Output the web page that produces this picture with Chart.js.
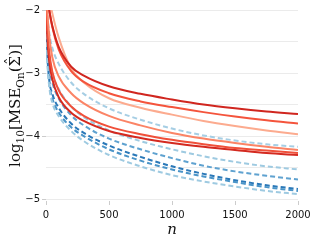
<!DOCTYPE html>
<html>
<head>
<meta charset="utf-8">
<script src="https://cdn.jsdelivr.net/npm/chart.js@4.4.0/dist/chart.umd.min.js"></script>
<style>
  html, body { margin: 0; padding: 0; background: #fff; }
  #wrap { width: 316px; height: 244px; }
</style>
</head>
<body>
<div id="wrap"><canvas id="mseChart" width="316" height="244"></canvas></div>
<script>
// sample sizes n
const nValues = [2, 10, 25, 50, 100, 200, 300, 500, 750, 1000, 1250, 1500, 1750, 2000];

// log10 MSE, solid red curves (upper group)
const redTopDark  = [-1.5, -1.8, -2.0, -2.25, -2.58, -2.9, -3.04, -3.21, -3.33, -3.42, -3.50, -3.56, -3.61, -3.65];
const redTopMid   = [-1.5, -1.75, -1.98, -2.27, -2.62, -2.97, -3.14, -3.32, -3.45, -3.54, -3.62, -3.69, -3.75, -3.80];
const redTopLight = [-1.4, -1.6, -1.8, -2.05, -2.43, -2.93, -3.15, -3.40, -3.55, -3.66, -3.76, -3.84, -3.91, -3.97];
// solid red curves (lower group)
const redLowLight = [-1.6, -2.0, -2.4, -2.75, -3.05, -3.32, -3.48, -3.68, -3.83, -3.95, -4.04, -4.11, -4.17, -4.22];
const redLowMid   = [-1.8, -2.25, -2.65, -2.98, -3.27, -3.53, -3.68, -3.85, -3.97, -4.06, -4.13, -4.19, -4.23, -4.27];
const redLowDark  = [-1.9, -2.4, -2.8, -3.1, -3.38, -3.63, -3.76, -3.92, -4.03, -4.11, -4.17, -4.22, -4.27, -4.30];
// dashed blue curves
const blue1 = [-1.7, -2.05, -2.35, -2.6, -2.85, -3.15, -3.33, -3.56, -3.74, -3.88, -3.99, -4.07, -4.13, -4.17];
const blue2 = [-1.85, -2.35, -2.72, -3.0, -3.25, -3.53, -3.7, -3.91, -4.08, -4.21, -4.32, -4.41, -4.48, -4.53];
const blue3 = [-1.9, -2.5, -2.9, -3.15, -3.4, -3.67, -3.83, -4.04, -4.21, -4.35, -4.47, -4.56, -4.63, -4.69];
const blue4 = [-1.95, -2.65, -3.1, -3.33, -3.55, -3.8, -3.95, -4.15, -4.33, -4.48, -4.60, -4.70, -4.78, -4.84];
const blue5 = [-2.0, -2.7, -3.15, -3.4, -3.62, -3.86, -4.0, -4.21, -4.39, -4.53, -4.64, -4.73, -4.81, -4.87];
const blue6 = [-2.0, -2.75, -3.2, -3.47, -3.68, -3.92, -4.08, -4.3, -4.48, -4.62, -4.72, -4.80, -4.87, -4.92];

const xTicks = [0, 500, 1000, 1500, 2000];
const yTicks = [-5, -4, -3, -2];

function pts(vals) {
    return nValues.map((n, i) => ({ x: n, y: vals[i] }));
}

function solid(vals, color, order) {
    return { data: pts(vals), borderColor: color, borderWidth: 2, pointRadius: 0,
             cubicInterpolationMode: 'monotone', fill: false, order: order };
}

function dashed(vals, color, order) {
    return { data: pts(vals), borderColor: color, borderWidth: 2, borderDash: [5, 3], pointRadius: 0,
             cubicInterpolationMode: 'monotone', fill: false, order: order };
}

// axis titles drawn by hand so the subscripts can be placed
const axisTitles = {
    id: 'axisTitles',
    afterDraw(chart) {
        const c = chart.ctx;
        const area = chart.chartArea;
        c.save();
        c.fillStyle = '#111';
        c.textBaseline = 'alphabetic';

        // x title
        c.font = 'italic 15px "DejaVu Serif"';
        c.textAlign = 'center';
        c.fillText('n', (area.left + area.right) / 2, 234);

        // y title, rotated
        const big = '15px "DejaVu Serif"';
        const small = '10.5px "DejaVu Serif"';
        const parts = [
            ['log', big, 0], ['10', small, 3.5], ['[MSE', big, 0], ['On', small, 3.5],
            ['(', big, 0], ['\u03A3', big, 0, true], [')]', big, 0]
        ];
        let total = 0;
        parts.forEach(p => { c.font = p[1]; total += c.measureText(p[0]).width; });
        c.translate(20, (area.top + area.bottom) / 2);
        c.rotate(-Math.PI / 2);
        c.textAlign = 'left';
        let x = -total / 2;
        parts.forEach(p => {
            c.font = p[1];
            const w = c.measureText(p[0]).width;
            c.fillText(p[0], x, p[2]);
            if (p[3]) {
                // hat over sigma
                c.textAlign = 'center';
                c.fillText('\u02C6', x + w / 2, -4);
                c.textAlign = 'left';
            }
            x += w;
        });
        c.restore();
    }
};

document.addEventListener('DOMContentLoaded', function() {

    const ctx = document.getElementById('mseChart');

    new Chart(ctx, {
        type: 'line',
        data: {
            datasets: [
                dashed(blue1, '#a6cee4', 12),
                dashed(blue2, '#9ecae1', 11),
                dashed(blue3, '#5fa2d0', 10),
                dashed(blue4, '#2a78b8', 9),
                dashed(blue5, '#4a94c8', 8),
                dashed(blue6, '#9ecae1', 7),
                solid(redLowDark, '#d42a20', 6),
                solid(redLowMid, '#f0503a', 5),
                solid(redLowLight, '#fb8466', 4),
                solid(redTopLight, '#fcab8f', 3),
                solid(redTopMid, '#f4543c', 2),
                solid(redTopDark, '#d0261f', 1)
            ]
        },
        options: {
            responsive: false,
            animation: false,
            layout: { padding: { top: 10, right: 18, left: 0, bottom: 0 } },
            plugins: { legend: { display: false }, tooltip: { enabled: false } },
            scales: {
                x: {
                    type: 'linear',
                    min: 0,
                    max: 2000,
                    afterBuildTicks: s => { s.ticks = xTicks.map(v => ({ value: v })); },
                    afterFit: s => { s.height = 43; },
                    border: { display: false },
                    grid: { display: true, drawOnChartArea: false, drawTicks: true, tickLength: 4, tickColor: '#cccccc' },
                    ticks: { padding: 4, color: '#111', font: { family: 'DejaVu Sans', size: 10 }, maxRotation: 0,
                             callback: v => String(v) }
                },
                y: {
                    min: -5.03,
                    max: -2,
                    afterBuildTicks: s => {
                        s.ticks = [-5, -4.5, -4, -3.5, -3, -2.5, -2].map(v => ({ value: v }));
                    },
                    afterFit: s => { s.width = 46; },
                    border: { display: false },
                    grid: {
                        color: '#ebebeb',
                        lineWidth: 1,
                        tickLength: 4,
                        tickColor: c => Number.isInteger(c.tick.value) ? '#cccccc' : 'rgba(0,0,0,0)'
                    },
                    ticks: {
                        padding: 2,
                        color: '#111',
                        font: { family: 'DejaVu Sans', size: 10 },
                        callback: v => yTicks.includes(v) ? '\u2212' + Math.abs(v) : ''
                    }
                }
            }
        },
        plugins: [axisTitles]
    });

});
</script>
</body>
</html>
